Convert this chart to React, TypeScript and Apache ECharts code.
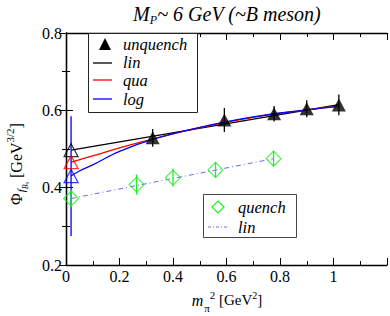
import React, { useEffect, useRef } from "react";
import * as echarts from "echarts";

// ---- data ----
const unqX = [0.324, 0.592, 0.778, 0.9, 1.02];
const unqY = [0.529, 0.575, 0.591, 0.604, 0.614];
const unqErr = [0.023, 0.031, 0.02, 0.022, 0.027];

const extX = 0.019;
const extLinY = 0.497;
const extQuaY = 0.466;
const extLogY = 0.43;
const extLogErr = 0.155;

const qX = [0.019, 0.264, 0.4, 0.559, 0.776];
const qY = [0.372, 0.408, 0.426, 0.446, 0.475];
const qErr = [0.023, 0.026, 0.023, 0.02, 0.02];

const linFitX = [0.019, 1.02];
const linFitY = [0.497, 0.615];
const quaFitX = [0.019, 0.1, 0.2, 0.33, 0.5, 0.7, 0.9, 1.02];
const quaFitY = [0.466, 0.482, 0.503, 0.527, 0.555, 0.582, 0.601, 0.611];
const logFitX = [0.019, 0.05, 0.1, 0.2, 0.33, 0.5, 0.7, 0.9, 1.02];
const logFitY = [0.43, 0.443, 0.459, 0.494, 0.526, 0.556, 0.583, 0.601, 0.61];
const qLinX = [0.019, 0.776];
const qLinY = [0.372, 0.475];

const xTickLabels = ["0", "0.2", "0.4", "0.6", "0.8", "1", ""];
const yTickLabels = ["0.2", "0.4", "0.6", "0.8"];

const SERIF = "Liberation Serif";
const GREEN = "#22ee22";

const zip = (xs: number[], ys: number[]) => xs.map((x, i) => [x, ys[i]]);

function errBars(xs: number[], ys: number[], es: number[], color: string) {
  return {
    type: "custom",
    z: 3,
    data: xs.map((x, i) => [x, ys[i] - es[i], ys[i] + es[i]]),
    renderItem: (_p: any, api: any) => {
      const a = api.coord([api.value(0), api.value(1)]);
      const b = api.coord([api.value(0), api.value(2)]);
      return {
        type: "line",
        shape: { x1: a[0], y1: a[1], x2: b[0], y2: b[1] },
        style: { stroke: color, lineWidth: 1.3 },
      };
    },
  };
}

const up = { fontFamily: SERIF, fontStyle: "normal", color: "#000" };
const iu = { fontFamily: SERIF, fontStyle: "italic", color: "#000" };

function legText(x: number, y: number, label: string) {
  return {
    type: "text",
    x,
    y,
    z: 11,
    style: {
      text: `{a|${label}}`,
      verticalAlign: "middle",
      rich: { a: { ...iu, fontSize: 16.5, lineHeight: 14 } },
    },
  };
}

export default function App() {
  const ref = useRef<HTMLDivElement>(null);
  useEffect(() => {
    const chart = echarts.init(ref.current!, null, { renderer: "svg" });
    const axisCommon = {
      axisLine: { show: true, lineStyle: { color: "#000", width: 1.3 } },
      axisTick: { show: true, inside: true, length: 7, lineStyle: { color: "#000" } },
      minorTick: { show: true, splitNumber: 2, length: 4, lineStyle: { color: "#000" } },
      splitLine: { show: false },
      minorSplitLine: { show: false },
    };
    const tickRich = { t: { ...up, fontSize: 16 } };
    chart.setOption({
      animation: false,
      backgroundColor: "#fff",
      textStyle: { fontFamily: SERIF },
      grid: { left: 66, right: 3, top: 33, bottom: 51 },
      xAxis: [
        {
          ...axisCommon,
          type: "value",
          min: 0,
          max: 1.2,
          interval: 0.2,
          axisLabel: {
            fontFamily: SERIF,
            fontSize: 16,
            color: "#000",
            margin: 3,
            rich: tickRich,
            formatter: (v: number) => {
              const s = xTickLabels[Math.round(v / 0.2)] ?? "";
              return s ? `{t|${s}}` : "";
            },
          },
        },
        {
          ...axisCommon,
          type: "value",
          position: "top",
          min: 0,
          max: 1.2,
          interval: 0.2,
          axisLabel: { show: false },
        },
      ],
      yAxis: [
        {
          ...axisCommon,
          type: "value",
          min: 0.2,
          max: 0.8,
          interval: 0.2,
          axisLabel: {
            fontFamily: SERIF,
            fontSize: 16,
            color: "#000",
            margin: 4,
            rich: tickRich,
            formatter: (v: number) => {
              const s = yTickLabels[Math.round((v - 0.2) / 0.2)] ?? "";
              return s ? `{t|${s}}` : "";
            },
          },
        },
        {
          ...axisCommon,
          type: "value",
          position: "right",
          min: 0.2,
          max: 0.8,
          interval: 0.2,
          axisLabel: { show: false },
        },
      ],
      series: [
        {
          type: "line",
          data: zip(linFitX, linFitY),
          showSymbol: false,
          lineStyle: { color: "#000", width: 1.3 },
          z: 2,
        },
        {
          type: "line",
          data: zip(quaFitX, quaFitY),
          showSymbol: false,
          smooth: 0.4,
          lineStyle: { color: "#ff0000", width: 1.3 },
          z: 2,
        },
        {
          type: "line",
          data: zip(logFitX, logFitY),
          showSymbol: false,
          smooth: 0.4,
          lineStyle: { color: "#0000ff", width: 1.3 },
          z: 2,
        },
        {
          type: "line",
          data: zip(qLinX, qLinY),
          showSymbol: false,
          lineStyle: { color: "#6a6aff", width: 1, type: [5, 3, 1, 3] },
          z: 2,
        },
        errBars(unqX, unqY, unqErr, "#000"),
        errBars([extX], [extLogY], [extLogErr], "#0000ff"),
        errBars(qX, qY, qErr, GREEN),
        {
          type: "scatter",
          data: zip(unqX, unqY),
          symbol: "triangle",
          symbolSize: [14, 13],
          itemStyle: { color: "#000" },
          z: 4,
        },
        {
          type: "scatter",
          data: [[extX, extLinY]],
          symbol: "triangle",
          symbolSize: [14, 13],
          itemStyle: { color: "rgba(0,0,0,0)", borderColor: "#000", borderWidth: 1.2 },
          z: 4,
        },
        {
          type: "scatter",
          data: [[extX, extQuaY]],
          symbol: "triangle",
          symbolSize: [14, 13],
          itemStyle: { color: "rgba(0,0,0,0)", borderColor: "#ff0000", borderWidth: 1.2 },
          z: 4,
        },
        {
          type: "scatter",
          data: [[extX, extLogY]],
          symbol: "triangle",
          symbolSize: [14, 13],
          itemStyle: { color: "rgba(0,0,0,0)", borderColor: "#0000ff", borderWidth: 1.2 },
          z: 4,
        },
        {
          type: "scatter",
          data: zip(qX, qY),
          symbol: "diamond",
          symbolSize: [15, 15],
          itemStyle: { color: "rgba(0,0,0,0)", borderColor: GREEN, borderWidth: 1.2 },
          z: 4,
        },
      ],
      graphic: [
        // title
        {
          type: "text",
          x: 227,
          y: 14,
          style: {
            text: "{m|M}{s|P}{m|~ 6 GeV (~B meson)}",
            align: "center",
            verticalAlign: "middle",
            rich: {
              m: { ...iu, fontSize: 20, lineHeight: 24, verticalAlign: "middle" },
              s: { ...iu, fontSize: 12, lineHeight: 24, verticalAlign: "bottom" },
            },
          },
        },
        // y axis label (rotated)
        {
          type: "text",
          x: 16,
          y: 164,
          rotation: Math.PI / 2,
          style: {
            text: "{m|Φ}{f|f}{b|B}{s|s}{sp| }{m|[GeV}{u|3/2}{m|]}",
            align: "center",
            verticalAlign: "middle",
            rich: {
              m: { ...up, fontSize: 16, lineHeight: 30, verticalAlign: "middle" },
              f: { ...iu, fontSize: 11, lineHeight: 30, verticalAlign: "bottom", padding: [0, 0, 5, 1] },
              b: { ...iu, fontSize: 8, lineHeight: 30, verticalAlign: "bottom", padding: [0, 0, 2, 0] },
              s: { ...iu, fontSize: 6, lineHeight: 30, verticalAlign: "bottom", padding: [0, 0, 1, 0] },
              sp: { ...up, fontSize: 16, lineHeight: 30, verticalAlign: "middle" },
              u: { ...up, fontSize: 11, lineHeight: 30, verticalAlign: "top", padding: [3, 0, 0, 0] },
            },
          },
        },
        // x axis label
        {
          type: "text",
          x: 227,
          y: 300,
          style: {
            text: "{m|m}{p|π}{q|2}{n| [GeV}{t|2}{n|]}",
            align: "center",
            verticalAlign: "middle",
            rich: {
              m: { ...iu, fontSize: 16, lineHeight: 26, verticalAlign: "middle" },
              p: { ...up, fontSize: 11, lineHeight: 26, verticalAlign: "bottom", padding: [0, 0, 0, 1] },
              q: { ...up, fontSize: 11, lineHeight: 26, verticalAlign: "top", padding: [2, 0, 0, 0] },
              n: { ...up, fontSize: 15, lineHeight: 26, verticalAlign: "middle" },
              t: { ...up, fontSize: 10, lineHeight: 26, verticalAlign: "top", padding: [3, 0, 0, 0] },
            },
          },
        },
        // top legend
        {
          type: "rect",
          shape: { x: 88.5, y: 33.5, width: 109, height: 79 },
          style: { fill: "#fff", stroke: "#222", lineWidth: 1 },
          z: 10,
        },
        {
          type: "polygon",
          shape: { points: [[105, 38], [111, 50], [99, 50]] },
          style: { fill: "#000" },
          z: 11,
        },
        legText(123, 44, "unquench"),
        { type: "line", shape: { x1: 93, y1: 63, x2: 112, y2: 63 }, style: { stroke: "#000", lineWidth: 1.3 }, z: 11 },
        legText(123, 62, "lin"),
        { type: "line", shape: { x1: 93, y1: 80, x2: 112, y2: 80 }, style: { stroke: "#ff0000", lineWidth: 1.3 }, z: 11 },
        legText(123, 80, "qua"),
        { type: "line", shape: { x1: 93, y1: 99, x2: 112, y2: 99 }, style: { stroke: "#0000ff", lineWidth: 1.3 }, z: 11 },
        legText(123, 99, "log"),
        // bottom legend
        {
          type: "rect",
          shape: { x: 203.5, y: 194.5, width: 93, height: 43 },
          style: { fill: "#fff", stroke: "#444", lineWidth: 1 },
          z: 10,
        },
        {
          type: "polygon",
          shape: { points: [[218, 201], [224, 207], [218, 213], [212, 207]] },
          style: { fill: "none", stroke: GREEN, lineWidth: 1.2 },
          z: 11,
        },
        legText(238, 207, "quench"),
        {
          type: "line",
          shape: { x1: 208, y1: 227, x2: 227, y2: 227 },
          style: { stroke: "#6a6aff", lineWidth: 1, lineDash: [3, 2, 1, 2] },
          z: 11,
        },
        legText(238, 227, "lin"),
      ],
    });
    return () => chart.dispose();
  }, []);
  return <div ref={ref} style={{ width: 390, height: 316, position: "absolute", left: 0, top: 0 }} />;
}
